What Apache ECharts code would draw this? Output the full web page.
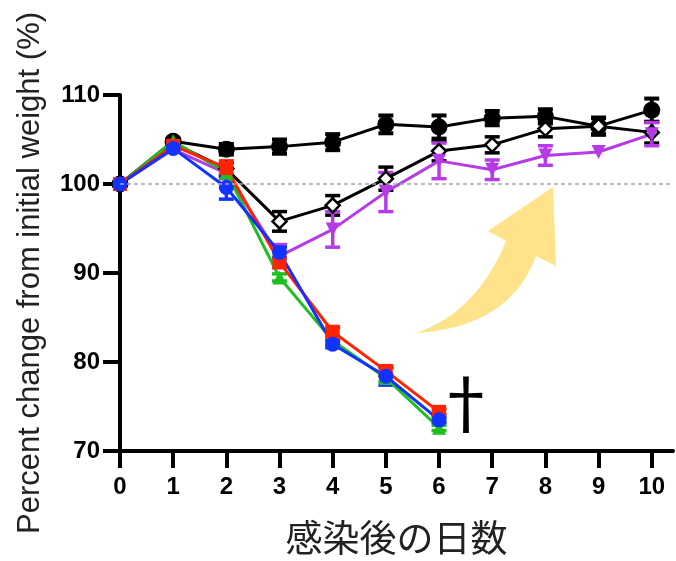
<!DOCTYPE html>
<html>
<head>
<meta charset="utf-8">
<script src="https://cdn.jsdelivr.net/npm/echarts@6/dist/echarts.min.js"></script>
<style>
  html, body { margin: 0; padding: 0; background: #fff; }
  #chart { width: 676px; height: 561px; }
</style>
</head>
<body>
<div id="chart"></div>
<script>
// days after infection
const days = [0, 1, 2, 3, 4, 5, 6, 7, 8, 9, 10];
const tickDays = [0, 1, 2, 3, 4, 5, 6, 7, 8, 9, 10];

// black filled circle
const blackMean = [100, 104.8, 103.9, 104.2, 104.7, 106.7, 106.4, 107.4, 107.6, 106.5, 108.3];
const blackErr  = [0, 0.3, 0.6, 0.8, 0.9, 1.0, 1.3, 0.8, 0.8, 0.9, 1.3];
// open diamond
const diamondMean = [100, 104.6, 101.7, 95.8, 97.6, 100.6, 103.7, 104.4, 106.2, 106.5, 105.8];
const diamondErr  = [0, 0.3, 0.7, 1.1, 1.1, 1.3, 1.1, 0.9, 0.9, 1.0, 1.2];
// purple down triangle
const purpleMean = [100, 103.9, 101.2, 91.9, 94.9, 99.1, 102.6, 101.6, 103.2, 103.6, 105.6];
const purpleErr  = [0, 0.3, 0.6, 1.3, 2.0, 2.2, 2.0, 1.1, 1.1, 0, 1.3];
// green triangle
const greenMean = [100, 104.8, 101.3, 89.5, 82.4, 78.2, 72.6];
const greenErr  = [0, 0.3, 0.5, 0.4, 0.4, 0.4, 0.3];
// red square
const redMean = [100, 104.3, 101.8, 91.2, 83.4, 79.0, 74.4];
const redErr  = [0, 0.3, 0.8, 0.5, 0.5, 0.5, 0.3];
// blue circle
const blueMean = [100, 104.0, 99.6, 92.3, 82.0, 78.4, 73.5];
const blueErr  = [0, 0.3, 1.3, 0.6, 0.4, 1.0, 0.3];

const baseline = 100;

function pairs(mean) {
  return mean.map((v, i) => [days[i], v]);
}
function triples(mean, err) {
  return mean.map((v, i) => [days[i], v, err[i]]);
}

function errorBars(mean, err, color, lw) {
  return {
    type: 'custom',
    data: triples(mean, err),
    encode: { x: 0, y: 1 },
    silent: true,
    renderItem: function (params, api) {
      const x = api.value(0), m = api.value(1), e = api.value(2);
      if (!e) return null;
      const top = api.coord([x, m + e]);
      const bot = api.coord([x, m - e]);
      const hw = 7.5;
      const st = { stroke: color, lineWidth: lw };
      return {
        type: 'group',
        children: [
          { type: 'line', shape: { x1: top[0], y1: top[1], x2: bot[0], y2: bot[1] }, style: st },
          { type: 'line', shape: { x1: top[0] - hw, y1: top[1], x2: top[0] + hw, y2: top[1] }, style: st },
          { type: 'line', shape: { x1: bot[0] - hw, y1: bot[1], x2: bot[0] + hw, y2: bot[1] }, style: st }
        ]
      };
    }
  };
}

function lineSeries(mean, color, symbol, size, extra) {
  return Object.assign({
    type: 'line',
    data: pairs(mean),
    symbol: symbol,
    symbolSize: size,
    showAllSymbol: true,
    lineStyle: { color: color, width: 3 },
    itemStyle: { color: color }
  }, extra || {});
}

// quadratic curve points for the decorative arrow outline
function quad(p0, c, p1, n) {
  const out = [];
  for (let i = 0; i <= n; i++) {
    const t = i / n, u = 1 - t;
    out.push([u * u * p0[0] + 2 * u * t * c[0] + t * t * p1[0],
              u * u * p0[1] + 2 * u * t * c[1] + t * t * p1[1]]);
  }
  return out;
}
const arrowPts = [].concat(
  quad([416, 333], [477, 312], [506, 241], 16),
  [[488, 231], [553, 187], [556, 266]],
  quad([536, 256], [510, 327], [416, 333], 16)
);

const chart = echarts.init(document.getElementById('chart'));
const option = {
  animation: false,
  grid: { left: 120, right: 3, top: 95, bottom: 104 },
  xAxis: {
    type: 'value',
    min: 0,
    max: 10.4,
    interval: 1,
    name: '感染後の日数',
    nameLocation: 'middle',
    nameGap: 68,
    nameTextStyle: { fontFamily: 'Noto Sans CJK JP', fontSize: 37, color: '#222' },
    axisLine: { show: true, lineStyle: { color: '#000', width: 4 } },
    axisTick: { show: true, length: 17, customValues: tickDays, lineStyle: { color: '#000', width: 4 } },
    axisLabel: {
      customValues: tickDays,
      margin: 24,
      fontFamily: 'Liberation Sans',
      fontWeight: 'bold',
      fontSize: 24,
      color: '#000'
    },
    splitLine: { show: false }
  },
  yAxis: {
    type: 'value',
    min: 70,
    max: 110,
    interval: 10,
    name: 'Percent change from initial weight (%)',
    nameLocation: 'middle',
    nameGap: 74,
    nameTextStyle: { fontFamily: 'Liberation Sans', fontSize: 31, color: '#222' },
    axisLine: { show: true, lineStyle: { color: '#000', width: 4 } },
    axisTick: { show: true, length: 17, lineStyle: { color: '#000', width: 4 } },
    axisLabel: {
      margin: 20,
      fontFamily: 'Liberation Sans',
      fontWeight: 'bold',
      fontSize: 24,
      color: '#000'
    },
    splitLine: { show: false }
  },
  series: [
    errorBars(blackMean, blackErr, '#000', 4),
    lineSeries(blackMean, '#000', 'circle', 17, {
      markLine: {
        silent: true,
        symbol: 'none',
        label: { show: false },
        lineStyle: { color: '#a8a8a8', type: [4, 3], width: 1.5 },
        data: [{ yAxis: baseline }]
      }
    }),
    errorBars(diamondMean, diamondErr, '#000', 3.5),
    lineSeries(diamondMean, '#000', 'diamond', 14, {
      itemStyle: { color: '#fff', borderColor: '#000', borderWidth: 2.5 }
    }),
    errorBars(purpleMean, purpleErr, '#b53be6', 3.5),
    lineSeries(purpleMean, '#b53be6', 'triangle', 14, { symbolRotate: 180 }),
    errorBars(greenMean, greenErr, '#1fbf1f', 3.5),
    lineSeries(greenMean, '#1fbf1f', 'triangle', 14),
    errorBars(redMean, redErr, '#ff2400', 3.5),
    lineSeries(redMean, '#ff2400', 'rect', 14),
    errorBars(blueMean, blueErr, '#1232ff', 3.5),
    lineSeries(blueMean, '#1232ff', 'circle', 15)
  ],
  graphic: [
    {
      type: 'polygon',
      z: 0,
      shape: { points: arrowPts },
      style: { fill: '#fee38a' }
    },
    {
      type: 'text',
      left: 432,
      top: 369,
      style: {
        text: '†',
        fontFamily: 'Noto Sans CJK JP',
        fontSize: 68,
        fill: '#000'
      }
    }
  ]
};
chart.setOption(option);
</script>
</body>
</html>
